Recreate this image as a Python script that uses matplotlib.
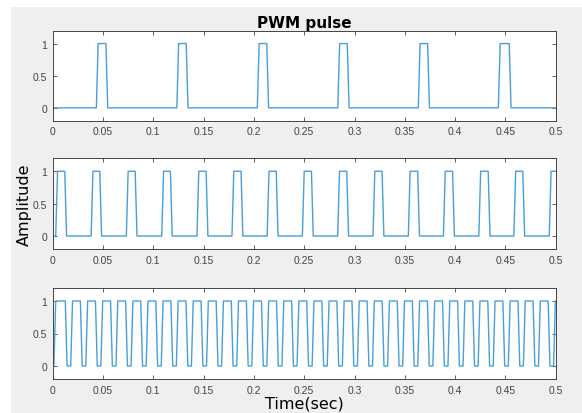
import matplotlib.pyplot as plt
from matplotlib.patches import Rectangle

# edge times (sec)
top_rise = [0.0434, 0.1234, 0.2034, 0.2834, 0.3634, 0.4430]
top_fall = [0.0529, 0.1327, 0.2128, 0.2928, 0.3727, 0.4538]

mid_rise = [0.0030, 0.0382, 0.0732, 0.1084, 0.1434, 0.1782, 0.2132, 0.2482,
            0.2833, 0.3184, 0.3535, 0.3884, 0.4236, 0.4584, 0.4936]
mid_fall = [0.0120, 0.0468, 0.0820, 0.1170, 0.1525, 0.1872, 0.2222, 0.2572,
            0.2923, 0.3274, 0.3628, 0.3975, 0.4329, 0.4673]

bot_rise = [0.0012, 0.0179, 0.0329, 0.0479, 0.0629, 0.0779, 0.0929, 0.1079,
            0.1229, 0.1379, 0.1529, 0.1679, 0.1829, 0.1979, 0.2129, 0.2279,
            0.2429, 0.2579, 0.2729, 0.2879, 0.3029, 0.3179, 0.3329, 0.3479,
            0.3629, 0.3779, 0.3929, 0.4079, 0.4229, 0.4379, 0.4529, 0.4679,
            0.4829, 0.4979]
bot_fall = [0.0125, 0.0275, 0.0425, 0.0575, 0.0725, 0.0875, 0.1025, 0.1175,
            0.1325, 0.1475, 0.1625, 0.1775, 0.1925, 0.2075, 0.2225, 0.2375,
            0.2525, 0.2675, 0.2825, 0.2975, 0.3125, 0.3275, 0.3425, 0.3575,
            0.3725, 0.3875, 0.4025, 0.4175, 0.4325, 0.4475, 0.4625, 0.4775,
            0.4925]

xticks = [0, 0.05, 0.1, 0.15, 0.2, 0.25, 0.3, 0.35, 0.4, 0.45, 0.5]
xtick_labels = ['0', '0.05', '0.1', '0.15', '0.2', '0.25', '0.3', '0.35', '0.4', '0.45', '0.5']
yticks = [0, 0.5, 1]
ytick_labels = ['0', '0.5', '1']

line_col = '#4a9fd8'
tick_font = ['Liberation Sans Narrow', 'Liberation Sans', 'DejaVu Sans']


def pulse_xy(rises, falls, ramp=0.0018):
    edges = sorted([(t, 1) for t in rises] + [(t, 0) for t in falls])
    x = [0.0]
    y = [0]
    level = 0
    for t, lv in edges:
        x += [t, t + ramp]
        y += [level, lv]
        level = lv
    x.append(0.5)
    y.append(level)
    return x, y


W, H = 582, 414
fig = plt.figure(figsize=(W / 100, H / 100), dpi=100)
fig.patch.set_facecolor('white')
fig.add_artist(Rectangle((11 / W, 0), 1, 1 - 8 / H, transform=fig.transFigure,
                         facecolor='#efefef', edgecolor='none', zorder=-10))

left = 52.7 / W
width = 503 / W
tops = [31.7, 159.3, 289]
bottoms = [121.7, 250, 380]
signals = [(top_rise, top_fall), (mid_rise, mid_fall), (bot_rise, bot_fall)]

axes = []
for (rs, fs), t, b in zip(signals, tops, bottoms):
    ax = fig.add_axes([left, 1 - b / H, width, (b - t) / H])
    x, y = pulse_xy(rs, fs)
    ax.plot(x, y, color=line_col, lw=1.0)
    ax.set_xlim(0, 0.5)
    ax.set_ylim(-0.2, 1.2)
    ax.set_xticks(xticks)
    ax.set_xticklabels(xtick_labels, family=tick_font, fontsize=7.5, color='#444444')
    ax.set_yticks(yticks)
    ax.set_yticklabels(ytick_labels, family=tick_font, fontsize=7.5, color='#444444')
    ax.tick_params(direction='in', length=3, width=0.6, color='#444444',
                   top=True, right=True, pad=4)
    for s in ax.spines.values():
        s.set_color('#444444')
        s.set_linewidth(0.7)
    axes.append(ax)

axes[0].set_title('PWM pulse', fontsize=11, fontweight='bold', pad=3)
axes[1].set_ylabel('Amplitude', fontsize=11.5, labelpad=1)
axes[2].set_xlabel('Time(sec)', fontsize=11.5, labelpad=1)

fig.savefig('out.png', dpi=100)
